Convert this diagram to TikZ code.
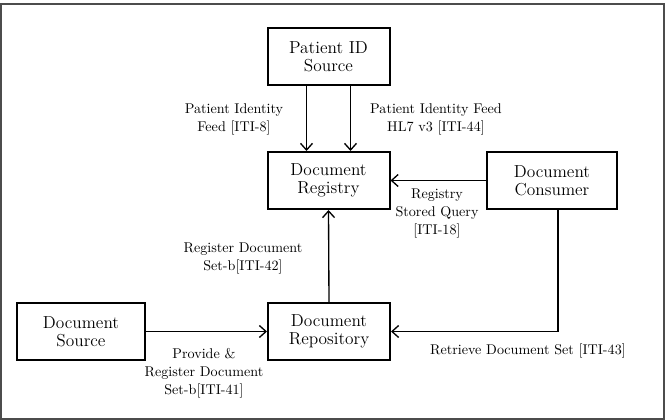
\documentclass[tikz,border=0pt]{standalone}
\usetikzlibrary{arrows.meta}
\begin{document}
\begin{tikzpicture}[x=0.75pt,y=-0.75pt,
  box/.style={draw,line width=1.5pt,align=center,inner sep=0pt,
    minimum height=42.75pt,font=\fontsize{13}{13.5}\selectfont},
  lbl/.style={align=center,inner sep=0pt,font=\fontsize{10.6}{13.5}\selectfont},
  arr/.style={line width=1pt,-{Straight Barb[length=5pt,width=9pt,line width=1pt]}}]
\useasboundingbox (0,0) rectangle (667,420);
\draw[line width=1.5pt,gray!60!black] (1,4) rectangle (664,419);
\node[box,minimum width=91.5pt] (pid) at (328.5,56.5) {Patient ID\\Source};
\node[box,minimum width=91.5pt] (reg) at (328.5,180.5) {Document\\Registry};
\node[box,minimum width=97.5pt] (cons) at (552,180.5) {Document\\Consumer};
\node[box,minimum width=96pt] (src) at (81,331.5) {Document\\Source};
\node[box,minimum width=91.5pt] (repo) at (329,331.5) {Document\\Repository};
\draw[arr] ([xshift=-16.5pt]pid.south) -- ([xshift=-16.5pt]reg.north);
\draw[arr] ([xshift=16.5pt]pid.south) -- ([xshift=16.5pt]reg.north);
\draw[arr] (cons.west) -- (reg.east);
\draw[arr] (repo.north) -- (reg.south);
\draw[arr] (src.east) -- (repo.west);
\draw[arr] ([xshift=4.5pt]cons.south) |- (repo.east);
\node[lbl] (l1) at (234,119) {Patient Identity\\Feed [ITI-8]};
\node[lbl] (l2) at (436,119) {Patient Identity Feed\\HL7 v3 [ITI-44]};
\node[lbl] (l3) at (437,213) {Registry\\Stored Query\\{}[ITI-18]};
\node[lbl] (l4) at (243,258.5) {Register Document\\Set-b[ITI-42]};
\node[lbl] (l5) at (204,373) {Provide \&\\Register Document\\Set-b[ITI-41]};
\node[lbl] (l6) at (528,351) {Retrieve Document Set [ITI-43]};
\end{tikzpicture}
\end{document}
